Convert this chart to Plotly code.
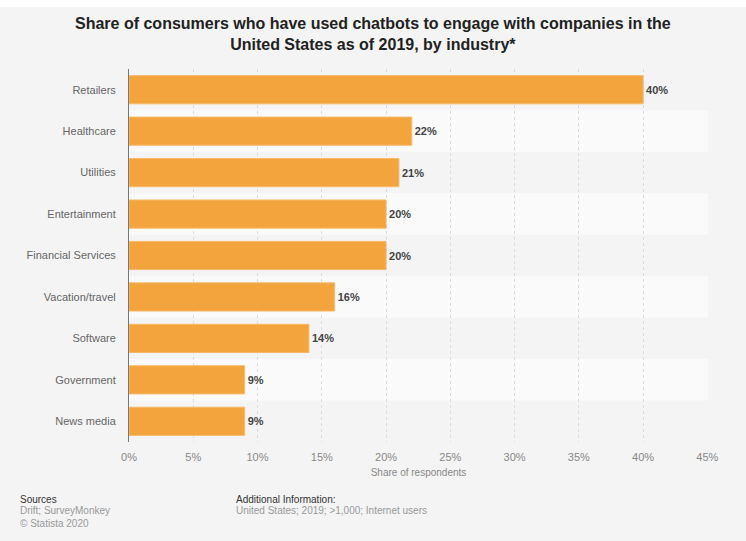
import plotly.graph_objects as go

categories = ["Retailers", "Healthcare", "Utilities", "Entertainment", "Financial Services",
              "Vacation/travel", "Software", "Government", "News media"]
values = [40, 22, 21, 20, 20, 16, 14, 9, 9]
tick_vals = [0, 5, 10, 15, 20, 25, 30, 35, 40, 45]
tick_text = [f"{v}%" for v in tick_vals]

title_text = ("<b>Share of consumers who have used chatbots to engage with companies in the"
              "<br>United States as of 2019, by industry*</b>")

W, H = 746, 541
ML, MR, MT, MB = 129, 38, 69, 99
PH = H - MT - MB
PW = W - ML - MR

font_main = "Liberation Sans, Arial, sans-serif"

fig = go.Figure()
fig.add_trace(go.Bar(
    x=values, y=categories, orientation="h",
    marker=dict(color="#f4a43c", line=dict(color="#f7b968", width=1)),
    text=[f"{v}%" for v in values], textposition="outside",
    textfont=dict(family=font_main, size=11, color="#444444", weight="bold"),
    cliponaxis=False, hoverinfo="skip",
))

shapes = []
# white strip at very top
shapes.append(dict(type="rect", xref="paper", yref="paper", x0=-0.3, x1=1.2,
                   y0=1 + (MT - 7) / PH, y1=1.3, fillcolor="#ffffff",
                   line=dict(width=0), layer="below"))
for i, c in enumerate(categories):
    if i % 2 == 1:
        shapes.append(dict(type="rect", xref="x domain", yref="y", x0=0, x1=1,
                           y0=i - 0.5, y1=i + 0.5, fillcolor="#fafafa",
                           line=dict(width=0), layer="below"))

annotations = []
def pa(px, py, text, color, size=10, xanchor="left"):
    annotations.append(dict(
        text=text, xref="paper", yref="paper",
        x=(px - ML) / PW, y=1 - (py - MT) / PH,
        xanchor=xanchor, yanchor="middle", showarrow=False,
        font=dict(family=font_main, size=size, color=color)))

# title
annotations.append(dict(
    text=title_text, xref="paper", yref="paper",
    x=(373 - ML) / PW, y=1 - (34 - MT) / PH,
    xanchor="center", yanchor="middle", showarrow=False, align="center",
    font=dict(family=font_main, size=16, color="#222222")))

pa(18, 499, "Sources", "#333333")
pa(18, 511, "Drift; SurveyMonkey", "#999999")
pa(18, 523, "© Statista 2020", "#999999")
pa(234, 499, "Additional Information:", "#333333")
pa(234, 511, "United States; 2019; >1,000; Internet users", "#999999")

fig.update_layout(
    width=W, height=H,
    margin=dict(l=ML, r=MR, t=MT, b=MB),
    paper_bgcolor="#f4f4f4", plot_bgcolor="#f4f4f4",
    bargap=0.32,
    showlegend=False,
    xaxis=dict(range=[0, 45.05], tickvals=tick_vals, ticktext=tick_text,
               showgrid=True, gridcolor="#dcdcdc", griddash="dot", gridwidth=1,
               zeroline=False, showline=False, ticklabelstandoff=7,
               tickfont=dict(family=font_main, size=11, color="#888888"),
               title=dict(text="Share of respondents", standoff=6,
                          font=dict(family=font_main, size=10, color="#888888"))),
    yaxis=dict(categoryorder="array", categoryarray=categories, autorange="reversed",
               showline=True, linecolor="#777777", linewidth=1,
               showgrid=False, ticks="", ticklabelstandoff=10,
               tickfont=dict(family=font_main, size=11, color="#666666")),
    shapes=shapes,
    annotations=annotations,
)

fig.write_html("out.html")
